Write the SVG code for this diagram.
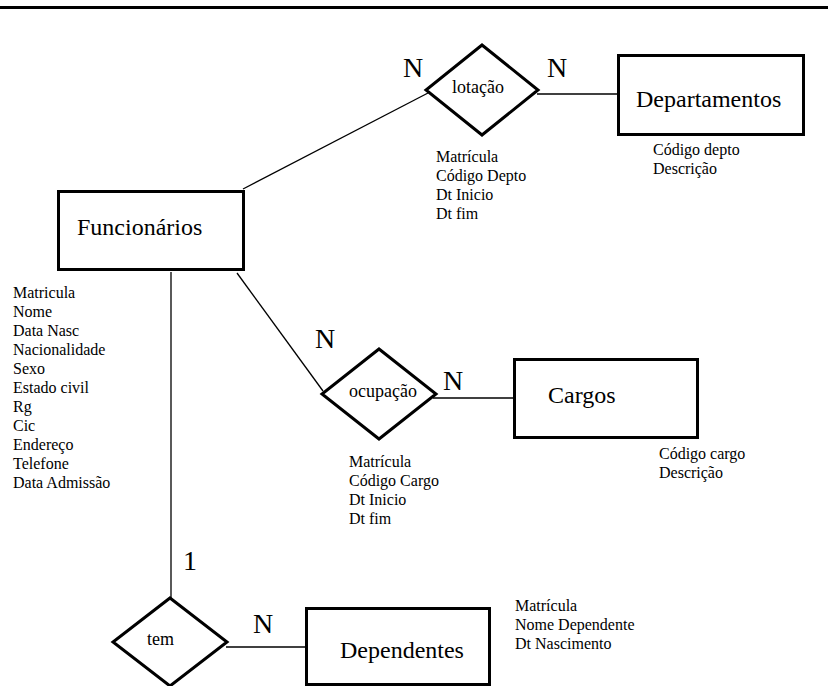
<svg xmlns="http://www.w3.org/2000/svg" width="828" height="686" viewBox="0 0 828 686">
<style>
.ent{fill:#fff;stroke:#000;stroke-width:3}
.rel{fill:#fff;stroke:#000;stroke-width:3;stroke-linejoin:miter}
.ln{stroke:#000;stroke-width:1.3;fill:none}
text{font-family:"Liberation Serif","Times New Roman",serif;fill:#000}
.et{font-size:24px}
.rt{font-size:18px}
.at{font-size:16px}
.cd{font-size:28px}
</style>
<rect x="0" y="0" width="828" height="686" fill="#fff"/>
<line x1="0" y1="7.5" x2="828" y2="7.5" stroke="#000" stroke-width="3"/>
<g id="connectors">
<line class="ln" x1="243" y1="189" x2="428" y2="93"/>
<line class="ln" x1="537" y1="94" x2="617" y2="94"/>
<line class="ln" x1="237" y1="273" x2="323" y2="391"/>
<line class="ln" x1="433" y1="398" x2="513" y2="398"/>
<line class="ln" x1="171" y1="272" x2="171" y2="598"/>
<line class="ln" x1="226" y1="647" x2="305" y2="647"/>
</g>
<g id="funcionarios">
<rect class="ent" x="58.5" y="191.5" width="185" height="78"/>
<text class="et" x="77" y="235">Funcionários</text>
<g class="at">
<text class="at" x="13" y="298">Matricula</text>
<text class="at" x="13" y="317">Nome</text>
<text class="at" x="13" y="336">Data Nasc</text>
<text class="at" x="13" y="355">Nacionalidade</text>
<text class="at" x="13" y="374">Sexo</text>
<text class="at" x="13" y="393">Estado civil</text>
<text class="at" x="13" y="412">Rg</text>
<text class="at" x="13" y="431">Cic</text>
<text class="at" x="13" y="450">Endereço</text>
<text class="at" x="13" y="469">Telefone</text>
<text class="at" x="13" y="488">Data Admissão</text>
</g>
</g>
<g id="lotacao">
<polygon class="rel" points="482,45 538,90 482,135 426,90"/>
<text class="rt" x="452" y="93">lotação</text>
<text class="cd" x="403" y="77">N</text>
<text class="cd" x="547" y="77">N</text>
<text class="at" x="436" y="162">Matrícula</text>
<text class="at" x="436" y="181">Código Depto</text>
<text class="at" x="436" y="200">Dt Inicio</text>
<text class="at" x="436" y="219">Dt fim</text>
</g>
<g id="departamentos">
<rect class="ent" x="618.5" y="55.5" width="185" height="79"/>
<text class="et" x="636" y="107">Departamentos</text>
<text class="at" x="653" y="155">Código depto</text>
<text class="at" x="653" y="174">Descrição</text>
</g>
<g id="ocupacao">
<polygon class="rel" points="379,349 436,394 379,439 322,394"/>
<text class="rt" x="349" y="397">ocupação</text>
<text class="cd" x="315" y="348">N</text>
<text class="cd" x="443" y="390">N</text>
<text class="at" x="349" y="467">Matrícula</text>
<text class="at" x="349" y="486">Código Cargo</text>
<text class="at" x="349" y="505">Dt Inicio</text>
<text class="at" x="349" y="524">Dt fim</text>
</g>
<g id="cargos">
<rect class="ent" x="514.5" y="359.5" width="183" height="78"/>
<text class="et" x="548" y="403">Cargos</text>
<text class="at" x="659" y="459">Código cargo</text>
<text class="at" x="659" y="478">Descrição</text>
</g>
<g id="tem">
<polygon class="rel" points="170,598 227,642 170,686 113,642"/>
<text class="rt" x="147" y="645">tem</text>
<text class="cd" x="183" y="570">1</text>
<text class="cd" x="253" y="633">N</text>
</g>
<g id="dependentes">
<rect class="ent" x="306.5" y="608.5" width="183" height="76"/>
<text class="et" x="340" y="658">Dependentes</text>
<text class="at" x="515" y="611">Matrícula</text>
<text class="at" x="515" y="630">Nome Dependente</text>
<text class="at" x="515" y="649">Dt Nascimento</text>
</g>
</svg>
